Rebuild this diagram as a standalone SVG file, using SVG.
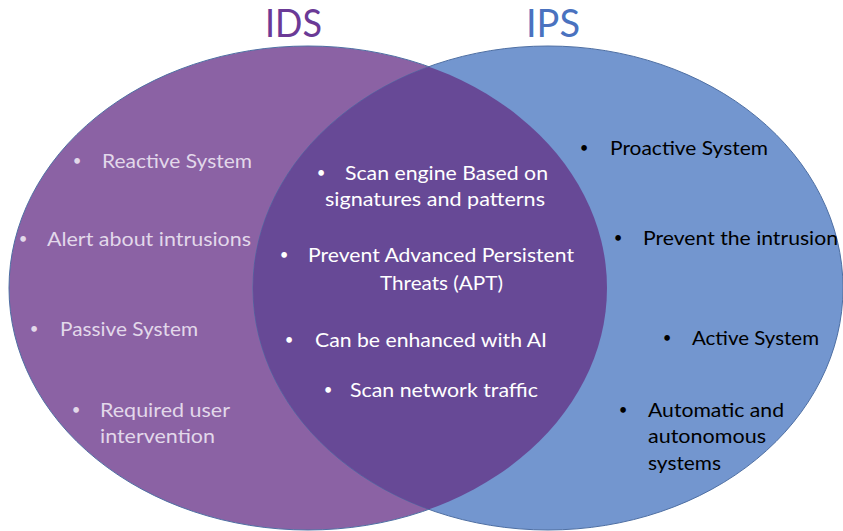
<svg xmlns="http://www.w3.org/2000/svg" width="843" height="531" viewBox="0 0 843 531">
  <style>
    text { font-family: Lato, "Liberation Sans", sans-serif; font-size: 19px; }
    .b { font-size: 15px; text-anchor: middle; }
    .title { font-size: 39px; }
    .ids-t { fill: #6B3A96; }
    .ips-t { fill: #4A72BF; }
    .lt { fill: #E2D8EA; }
    .mt { fill: #FFFFFF; }
    .rt { fill: #000000; }
    .set { stroke: #4E6FA3; stroke-width: 1; }
  </style>
  <defs>
    <clipPath id="clipBlue">
      <ellipse cx="548" cy="288" rx="295" ry="242"/>
    </clipPath>
  </defs>
  <rect width="843" height="531" fill="#FFFFFF"/>

  <g id="ids-set">
    <ellipse class="set" cx="308" cy="288" rx="299" ry="242" fill="#8B62A4"/>
  </g>
  <g id="ips-set">
    <ellipse class="set" cx="548" cy="288" rx="295" ry="242" fill="#7396CF"/>
  </g>
  <g id="overlap">
    <ellipse cx="308" cy="288" rx="299" ry="242" fill="#674996" clip-path="url(#clipBlue)"/>
  </g>

  <g id="titles">
    <text id="title-ids" class="title ids-t" x="265" y="37" textLength="57" lengthAdjust="spacingAndGlyphs">IDS</text>
    <text id="title-ips" class="title ips-t" x="526" y="37" textLength="54" lengthAdjust="spacingAndGlyphs">IPS</text>
  </g>

  <g id="ids-items">
    <text class="lt b" x="77" y="166">•</text>
    <text class="lt" x="102" y="168" textLength="150" lengthAdjust="spacingAndGlyphs">Reactive System</text>
    <text class="lt b" x="23" y="244">•</text>
    <text class="lt" x="47" y="246" textLength="204" lengthAdjust="spacingAndGlyphs">Alert about intrusions</text>
    <text class="lt b" x="34" y="334">•</text>
    <text class="lt" x="60" y="336" textLength="138" lengthAdjust="spacingAndGlyphs">Passive System</text>
    <text class="lt b" x="76" y="415">•</text>
    <text class="lt" x="100" y="417" textLength="130" lengthAdjust="spacingAndGlyphs">Required user</text>
    <text class="lt" x="100" y="443" textLength="115" lengthAdjust="spacingAndGlyphs">intervention</text>
  </g>

  <g id="shared-items">
    <text class="mt b" x="321" y="178">•</text>
    <text class="mt" x="345" y="180" textLength="203" lengthAdjust="spacingAndGlyphs">Scan engine Based on</text>
    <text class="mt" x="325" y="206" textLength="220" lengthAdjust="spacingAndGlyphs">signatures and patterns</text>
    <text class="mt b" x="284" y="260">•</text>
    <text class="mt" x="308" y="262" textLength="266" lengthAdjust="spacingAndGlyphs">Prevent Advanced Persistent</text>
    <text class="mt" x="380" y="290" textLength="123" lengthAdjust="spacingAndGlyphs">Threats (APT)</text>
    <text class="mt b" x="289" y="345">•</text>
    <text class="mt" x="315" y="347" textLength="232" lengthAdjust="spacingAndGlyphs">Can be enhanced with AI</text>
    <text class="mt b" x="328" y="395">•</text>
    <text class="mt" x="350" y="397" textLength="188" lengthAdjust="spacingAndGlyphs">Scan network traffic</text>
  </g>

  <g id="ips-items">
    <text class="rt b" x="584" y="153">•</text>
    <text class="rt" x="610" y="155" textLength="158" lengthAdjust="spacingAndGlyphs">Proactive System</text>
    <text class="rt b" x="618" y="243">•</text>
    <text class="rt" x="643" y="245" textLength="195" lengthAdjust="spacingAndGlyphs">Prevent the intrusion</text>
    <text class="rt b" x="667" y="343">•</text>
    <text class="rt" x="692" y="345" textLength="127" lengthAdjust="spacingAndGlyphs">Active System</text>
    <text class="rt b" x="623" y="415">•</text>
    <text class="rt" x="648" y="417" textLength="136" lengthAdjust="spacingAndGlyphs">Automatic and</text>
    <text class="rt" x="648" y="443" textLength="118" lengthAdjust="spacingAndGlyphs">autonomous</text>
    <text class="rt" x="648" y="470" textLength="73" lengthAdjust="spacingAndGlyphs">systems</text>
  </g>
</svg>
